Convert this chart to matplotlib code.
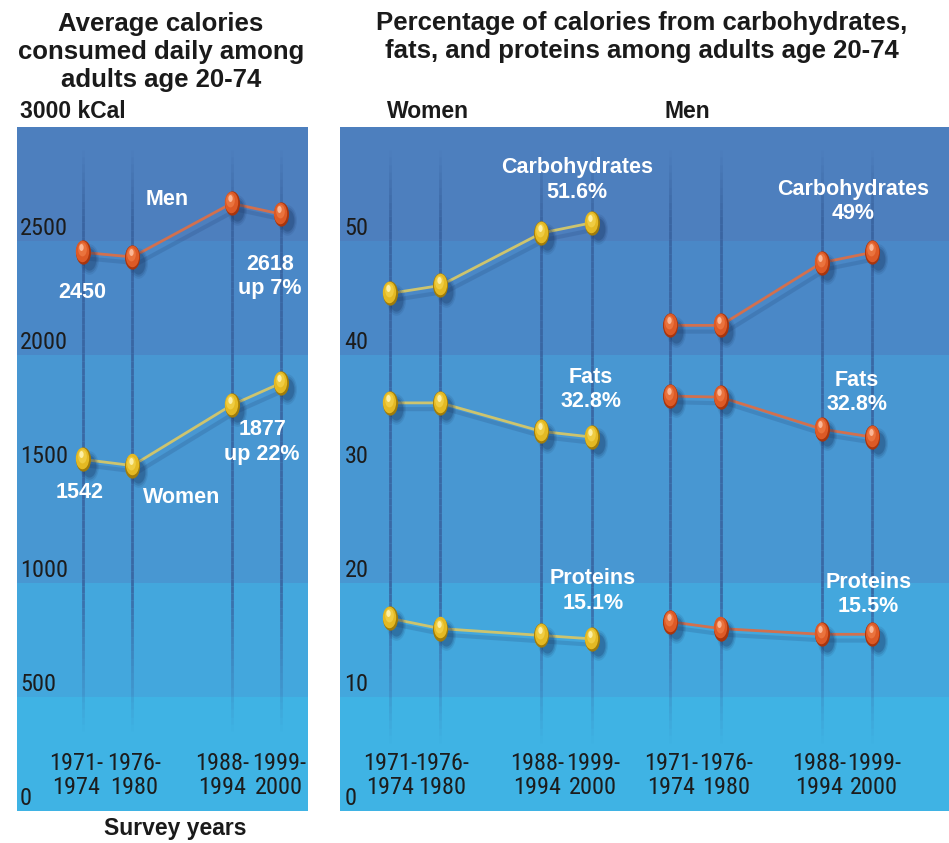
import numpy as np
import matplotlib
matplotlib.use("Agg")
import matplotlib.pyplot as plt
from matplotlib.path import Path
from matplotlib.collections import LineCollection
from matplotlib.transforms import offset_copy, blended_transform_factory

# ---------------- data ----------------
periods = ['1971-\n1974', '1976-\n1980', '1988-\n1994', '1999-\n2000']
survey_pos = [0, 1, 3, 4]          # spacing of survey columns
men_offset = 5.55                  # where the men's group starts in right panel

kcal_men = [2450, 2430, 2665, 2618]
kcal_women = [1542, 1515, 1780, 1877]
kcal_ticks = [0, 500, 1000, 1500, 2000, 2500]

carb_women = [45.4, 46.1, 50.7, 51.6]
carb_men = [42.6, 42.6, 48.1, 49.0]
fat_women = [35.8, 35.8, 33.3, 32.8]
fat_men = [36.4, 36.3, 33.5, 32.8]
prot_women = [16.9, 16.0, 15.4, 15.1]
prot_men = [16.6, 16.0, 15.5, 15.5]
pct_ticks = [0, 10, 20, 30, 40, 50]

# ---------------- style ----------------
W, H = 949, 843
DPI = 100
plt.rcParams['font.family'] = ['Liberation Sans', 'DejaVu Sans']
NARROW = ['Roboto Condensed', 'Liberation Sans', 'DejaVu Sans']
TICK_FS = 17.5

fig = plt.figure(figsize=(W / DPI, H / DPI), dpi=DPI)


def fx(px):
    return px / W


def fy(py):
    return 1 - py / H


def make_axes(x0, x1, y0, y1):
    return fig.add_axes([fx(x0), fy(y1), (x1 - x0) / W, (y1 - y0) / H])


band_cols = ['#3fb3e4', '#43a7dd', '#4897d2', '#4a88c7', '#4d7fbe']

ELL = Path(Path.unit_circle().vertices * np.array([0.62, 1.0]), Path.unit_circle().codes)

GOLD = dict(rim='#a07c0a', main='#e4b923', mid='#f3d24a', hi='#fff6b8', line='#cdc46e')
RED = dict(rim='#a8350d', main='#dd5a26', mid='#ee7a44', hi='#ffc4a6', line='#d2704e')


def background(ax, top, edges):
    b = [0] + edges + [top]
    for i in range(len(b) - 1):
        ax.axhspan(b[i], b[i + 1], color=band_cols[i], lw=0, zorder=0)


def vline(ax, x, y0, y1, color='#37609c'):
    n = 80
    ys = np.linspace(y0, y1, n + 1)
    segs = [[(x, ys[i]), (x, ys[i + 1])] for i in range(n)]
    t = (np.arange(n) + 0.5) / n
    alpha = np.clip(np.minimum(t / 0.25, (1 - t) / 0.12), 0, 1) * 0.85
    cols = [matplotlib.colors.to_rgba(color, a) for a in alpha]
    lc = LineCollection(segs, colors=cols, linewidths=2.0, zorder=1)
    ax.add_collection(lc)


def series(ax, xs, ys, pal):
    sh = offset_copy(ax.transData, fig=fig, x=4, y=-4.5, units='points')
    ax.plot(xs, ys, color='#1d3c6e', alpha=0.18, lw=3, transform=sh, zorder=2)
    ax.plot(xs, ys, color=pal['line'], lw=2.0, zorder=3, solid_capstyle='round')
    for s, a in [(22, 0.10), (19, 0.16), (16, 0.24)]:
        ax.plot(xs, ys, ls='none', marker=ELL, ms=s, mfc='#14305c', mec='none',
                alpha=a, transform=sh, zorder=4)
    ax.plot(xs, ys, ls='none', marker=ELL, ms=17.5, mfc=pal['rim'], mec='none', zorder=5)
    mid = offset_copy(ax.transData, fig=fig, x=-0.4, y=0.8, units='points')
    ax.plot(xs, ys, ls='none', marker=ELL, ms=15.5, mfc=pal['main'], mec='none',
            transform=mid, zorder=6)
    up = offset_copy(ax.transData, fig=fig, x=-0.8, y=2.2, units='points')
    ax.plot(xs, ys, ls='none', marker=ELL, ms=10, mfc=pal['mid'], mec='none',
            alpha=0.8, transform=up, zorder=7)
    hi = offset_copy(ax.transData, fig=fig, x=-1.2, y=3.6, units='points')
    ax.plot(xs, ys, ls='none', marker=ELL, ms=5, mfc=pal['hi'], mec='none',
            alpha=0.85, transform=hi, zorder=8)


def ytick_labels(ax, ticks, xpos):
    tr = offset_copy(ax.transData, fig=fig, x=0, y=9, units='points')
    for v in ticks:
        ax.text(xpos, v, str(v), transform=tr, ha='left', va='center',
                fontsize=TICK_FS, family=NARROW, color='#1c1c1c', zorder=9)


def xtick_labels(ax, xs, labels, shifts):
    base = blended_transform_factory(ax.transData, ax.transAxes)
    for x, lab, dx in zip(xs, labels, shifts):
        tr = offset_copy(base, fig=fig, x=dx, y=0, units='dots')
        ax.text(x, 0.052, lab, transform=tr, ha='center', va='center',
                fontsize=TICK_FS, family=NARROW, color='#1c1c1c',
                linespacing=1.05, zorder=9)


def wlabel(ax, x, y, s):
    ax.text(x, y, s, ha='center', va='center', fontsize=15.5, fontweight='bold',
            color='white', linespacing=1.2, zorder=10)


# ---------------- left panel ----------------
axL = make_axes(17, 308, 127, 811)
axL.set_xlim(-1.333, 4.545)
axL.set_ylim(0, 3000)
axL.axis('off')
background(axL, 3000, [500, 1000, 2000, 2500])
for x in survey_pos:
    vline(axL, x, 350, 2900)
series(axL, survey_pos, kcal_men, RED)
series(axL, survey_pos, kcal_women, GOLD)
ytick_labels(axL, kcal_ticks, -1.27)
xtick_labels(axL, survey_pos, periods, [-7, 2, -9, -2])
wlabel(axL, 1.70, 2680, 'Men')
wlabel(axL, -0.02, 2272, '2450')
wlabel(axL, 3.78, 2346, '2618\nup 7%')
wlabel(axL, -0.06, 1395, '1542')
wlabel(axL, 2.0, 1373, 'Women')
wlabel(axL, 3.62, 1618, '1877\nup 22%')

# ---------------- right panel ----------------
axR = make_axes(340, 949, 127, 811)
axR.set_xlim(-0.99, 11.07)
axR.set_ylim(0, 60)
axR.axis('off')
background(axR, 60, [10, 20, 40, 50])
xw = list(survey_pos)
xm = [men_offset + p for p in survey_pos]
for x in xw + xm:
    vline(axR, x, 6, 58)
series(axR, xw, carb_women, GOLD)
series(axR, xw, fat_women, GOLD)
series(axR, xw, prot_women, GOLD)
series(axR, xm, carb_men, RED)
series(axR, xm, fat_men, RED)
series(axR, xm, prot_men, RED)
ytick_labels(axR, pct_ticks, -0.9)
xtick_labels(axR, xw + xm, periods + periods, [0, 2, -4, 1, 1, 5, -3, 2])
wlabel(axR, 3.70, 55.35, 'Carbohydrates\n51.6%')
wlabel(axR, 9.17, 53.5, 'Carbohydrates\n49%')
wlabel(axR, 3.98, 37.0, 'Fats\n32.8%')
wlabel(axR, 9.25, 36.7, 'Fats\n32.8%')
wlabel(axR, 4.02, 19.3, 'Proteins\n15.1%')
wlabel(axR, 9.47, 19.0, 'Proteins\n15.5%')

# ---------------- titles / labels ----------------
fig.text(fx(161), fy(52), 'Average calories\nconsumed daily among\nadults age 20-74',
         ha='center', va='center', fontsize=18.5, fontweight='bold', color='#1a1a1a',
         linespacing=1.22)
fig.text(fx(642), fy(37), 'Percentage of calories from carbohydrates,\nfats, and proteins among adults age 20-74',
         ha='center', va='center', fontsize=18.5, fontweight='bold', color='#1a1a1a',
         linespacing=1.22)
fig.text(fx(20), fy(111), '3000 kCal', ha='left', va='center', fontsize=16.5,
         fontweight='bold', color='#1a1a1a')
fig.text(fx(387), fy(111), 'Women', ha='left', va='center', fontsize=16.5,
         fontweight='bold', color='#1a1a1a')
fig.text(fx(665), fy(111), 'Men', ha='left', va='center', fontsize=16.5,
         fontweight='bold', color='#1a1a1a')
fig.text(fx(175), fy(829), 'Survey years', ha='center', va='center', fontsize=16.5,
         fontweight='bold', color='#1a1a1a')

fig.savefig('out.png', dpi=DPI)
